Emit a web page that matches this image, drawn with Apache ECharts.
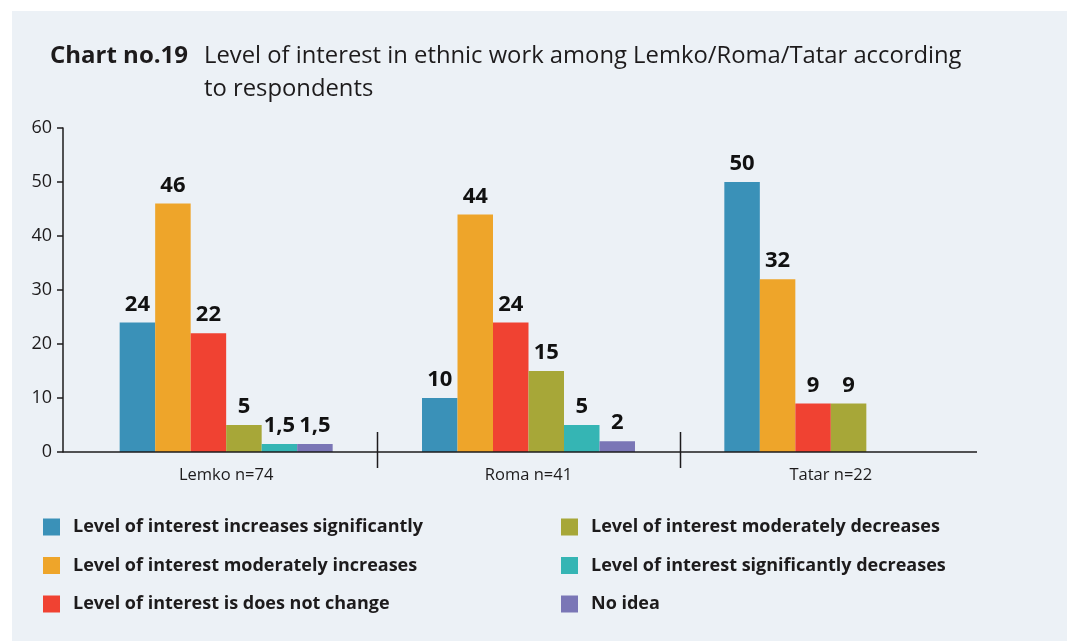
<!DOCTYPE html>
<html>
<head>
<meta charset="utf-8">
<script src="https://cdn.jsdelivr.net/npm/echarts@6/dist/echarts.min.js"></script>
<style>
  html, body { margin: 0; padding: 0; background: #ffffff; }
  #chart { width: 1067px; height: 641px; }
</style>
</head>
<body>
<div id="chart"></div>
<script>
// Groups of respondents
const categories = ['Lemko n=74', 'Roma n=41', 'Tatar n=22'];

// Answer shares per group (%)
const increasesSignificantly = [24, 10, 50];
const moderatelyIncreases = [46, 44, 32];
const doesNotChange = [22, 24, 9];
const moderatelyDecreases = [5, 15, 9];
const significantlyDecreases = [1.5, 5, null];
const noIdea = [1.5, 2, null];

const yTicks = [0, 10, 20, 30, 40, 50, 60];

const seriesNames = [
  'Level of interest increases significantly',
  'Level of interest moderately increases',
  'Level of interest is does not change',
  'Level of interest moderately decreases',
  'Level of interest significantly decreases',
  'No idea'
];
const seriesData = [increasesSignificantly, moderatelyIncreases, doesNotChange,
  moderatelyDecreases, significantlyDecreases, noIdea];
const colors = ['#3A91B8', '#EEA52A', '#F04232', '#A7A738', '#35B5B4', '#7A76B6'];

const FONT = '"Open Sans", "Noto Sans", sans-serif';
const INK = '#1d1b1c';

const chart = echarts.init(document.getElementById('chart'), null, { renderer: 'canvas' });

const series = seriesNames.map((name, i) => ({
  name: name,
  type: 'bar',
  data: seriesData[i],
  barWidth: 35.5,
  barGap: '0%',
  itemStyle: { color: colors[i] },
  label: {
    show: true,
    position: 'top',
    distance: 7,
    fontFamily: FONT,
    fontWeight: 'bold',
    fontSize: 22,
    color: '#111111',
    formatter: p => String(p.value).replace('.', ',')
  }
}));

const legendText = {
  fontFamily: FONT,
  fontWeight: 'bold',
  fontSize: 18,
  color: INK,
  padding: [0, 0, 0, 8]
};

chart.setOption({
  animation: false,
  backgroundColor: 'transparent',
  color: colors,
  title: [
    {
      text: 'Chart no.19',
      left: 50, top: 40,
      padding: 0,
      textStyle: { fontFamily: FONT, fontWeight: 'bold', fontSize: 24, lineHeight: 33, color: INK }
    },
    {
      text: 'Level of interest in ethnic work among Lemko/Roma/Tatar according\nto respondents',
      left: 204, top: 40,
      padding: 0,
      textStyle: { fontFamily: FONT, fontWeight: 'normal', fontSize: 23.8, lineHeight: 33, color: INK }
    }
  ],
  legend: [
    {
      data: seriesNames.slice(0, 3),
      orient: 'vertical',
      left: 43, top: 518,
      padding: 0,
      itemWidth: 17, itemHeight: 17, itemGap: 20.5,
      icon: 'rect',
      selectedMode: false,
      textStyle: legendText
    },
    {
      data: seriesNames.slice(3),
      orient: 'vertical',
      left: 561, top: 518,
      padding: 0,
      itemWidth: 17, itemHeight: 17, itemGap: 20.5,
      icon: 'rect',
      selectedMode: false,
      textStyle: legendText
    }
  ],
  grid: { left: 75, right: 85, top: 128, bottom: 189, containLabel: false },
  xAxis: {
    type: 'category',
    data: categories,
    axisLine: { show: false },
    axisTick: { show: false },
    axisLabel: { fontFamily: FONT, fontSize: 16.5, color: INK, margin: 15 }
  },
  yAxis: {
    type: 'value',
    min: yTicks[0],
    max: yTicks[yTicks.length - 1],
    interval: 10,
    offset: 12,
    axisLine: { show: true, lineStyle: { color: INK, width: 1.5 } },
    axisTick: { show: true, length: 6, lineStyle: { color: INK, width: 1.5 } },
    axisLabel: { fontFamily: FONT, fontSize: 18, color: INK, margin: 11 },
    splitLine: { show: false }
  },
  series: series
});

// Panel background, baseline and group separators
function drawFrame() {
  const zeroY = chart.convertToPixel({ yAxisIndex: 0 }, 0);
  const centers = categories.map((c, i) => chart.convertToPixel({ xAxisIndex: 0 }, i));
  const step = centers[1] - centers[0];
  const axisX = 63;
  const endX = centers[centers.length - 1] + step / 2 - 5;
  const elements = [
    {
      type: 'rect', z: -10, silent: true,
      shape: { x: 12, y: 11, width: 1067, height: 641 },
      style: { fill: '#ECF1F6' }
    },
    {
      type: 'line', z: 10, silent: true,
      shape: { x1: axisX, y1: zeroY, x2: endX, y2: zeroY },
      style: { stroke: INK, lineWidth: 1.5 }
    }
  ];
  for (let i = 1; i < centers.length; i++) {
    const x = Math.round((centers[i - 1] + centers[i]) / 2) + 0.5;
    elements.push({
      type: 'line', z: 10, silent: true,
      shape: { x1: x, y1: zeroY - 20, x2: x, y2: zeroY + 16 },
      style: { stroke: INK, lineWidth: 1.5 }
    });
  }
  chart.setOption({ graphic: elements });
}
drawFrame();
</script>
</body>
</html>
